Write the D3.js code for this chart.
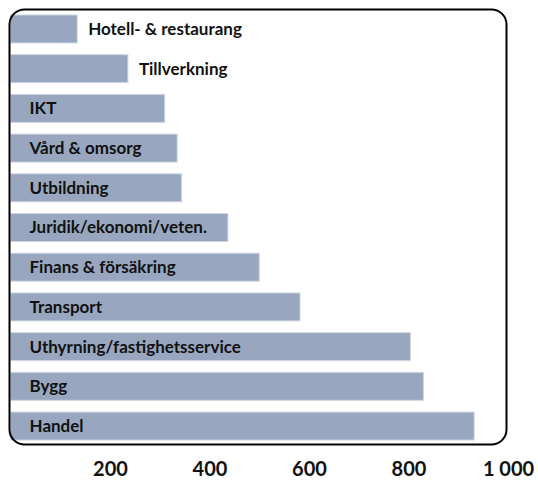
<!DOCTYPE html>
<html>
<head>
<meta charset="utf-8">
<script src="https://cdn.jsdelivr.net/npm/d3@7"></script>
<style>
html,body{margin:0;padding:0;background:#fff;}
svg{display:block;}
</style>
</head>
<body>
<svg id="chart" width="538" height="486"></svg>
<script>
const categories = ["Hotell- & restaurang","Tillverkning","IKT","Vård & omsorg","Utbildning","Juridik/ekonomi/veten.","Finans & försäkring","Transport","Uthyrning/fastighetsservice","Bygg","Handel"];
const values = [134, 236, 310, 335, 344, 437, 500, 582, 804, 830, 932];
const tickValues = [200, 400, 600, 800, 1000];

const svg = d3.select("#chart");
const x = d3.scaleLinear().domain([0, 1000]).range([10.5, 508]);
const y = d3.scaleBand().domain(categories).range([9, 446]).paddingInner(0.295).paddingOuter(0.15);

const data = categories.map((c, i) => ({cat: c, val: values[i]}));

const fontFam = "Lato, 'Open Sans', sans-serif";

svg.append("g").selectAll("rect").data(data).join("rect")
  .attr("x", x(0))
  .attr("y", d => y(d.cat))
  .attr("width", d => x(d.val) - x(0))
  .attr("height", y.bandwidth())
  .attr("fill", "#98a7bf")
  .attr("stroke", "#cfd6e2")
  .attr("stroke-width", 1);

const labels = svg.append("g").selectAll("text").data(data).join("text")
  .attr("y", d => y(d.cat) + y.bandwidth() / 2)
  .attr("dy", "0.35em")
  .attr("font-family", fontFam)
  .attr("font-weight", "bold")
  .attr("font-size", 17)
  .attr("fill", "#111")
  .text(d => d.cat);

labels.each(function(d) {
  const w = this.getComputedTextLength();
  const bw = x(d.val) - x(0);
  const inside = bw > w + 25 && bw > 130;
  d3.select(this).attr("x", inside ? x(0) + 19 : x(d.val) + 11);
});

// rounded border
svg.append("rect")
  .attr("x", 9.5).attr("y", 9.5)
  .attr("width", 497).attr("height", 435)
  .attr("rx", 15).attr("ry", 15)
  .attr("fill", "none")
  .attr("stroke", "#000")
  .attr("stroke-width", 2);

// x axis labels
const locale = d3.formatLocale({decimal: ",", thousands: " ", grouping: [3], currency: ["", " kr"]});
const fmt = locale.format(",d");
const axis = d3.axisBottom(x).tickValues(tickValues).tickFormat(fmt).tickSize(0).tickPadding(0);
const ag = svg.append("g").attr("transform", "translate(0,462)").call(axis);
ag.select(".domain").remove();
ag.selectAll("text")
  .attr("font-family", fontFam)
  .attr("font-weight", "bold")
  .attr("font-size", 20)
  .attr("fill", "#111");
</script>
</body>
</html>
